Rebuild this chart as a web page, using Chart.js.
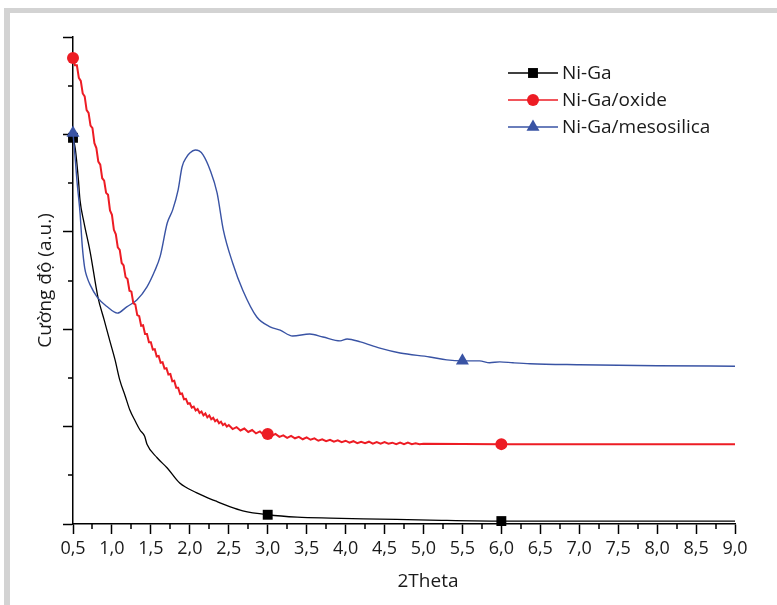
<!DOCTYPE html>
<html>
<head>
<meta charset="utf-8">
<script src="https://cdn.jsdelivr.net/npm/chart.js@4.4.1/dist/chart.umd.min.js"></script>
<style>
  html, body { margin: 0; padding: 0; background: #fff; }
  #wrap { position: relative; width: 777px; height: 605px; overflow: hidden; }
  #frame { position: absolute; left: 4px; top: 8px; width: 900px; height: 700px;
           border-top: 5px solid #d3d3d3; border-left: 6px solid #d3d3d3; }
  #chart { position: absolute; left: 0; top: 0; }
</style>
</head>
<body>
<div id="wrap">
  <div id="frame"></div>
  <canvas id="chart" width="777" height="605"></canvas>
</div>
<script>
// Ni-Ga
const niGaX = [0.5, 0.53, 0.57, 0.59, 0.64, 0.72, 0.82, 0.9, 0.98, 1.04, 1.1, 1.17, 1.23, 1.3, 1.36, 1.42, 1.45, 1.58, 1.71, 1.87, 2.09, 2.3, 2.35, 2.52, 2.68, 3.0, 3.38, 3.8, 4.44, 5.08, 6.0, 9.0];
const niGaY = [7.93, 7.70, 7.06, 6.65, 6.20, 5.59, 4.66, 4.19, 3.72, 3.37, 2.96, 2.63, 2.34, 2.11, 1.93, 1.80, 1.64, 1.36, 1.15, 0.84, 0.64, 0.49, 0.46, 0.35, 0.27, 0.19, 0.14, 0.12, 0.10, 0.08, 0.06, 0.06];
const niGaMarks = [0.5, 3.0, 6.0];

// Ni-Ga/oxide (noisy scan up to 5.0, flat after)
const oxideX = [0.5, 0.525, 0.55, 0.575, 0.6, 0.625, 0.65, 0.675, 0.7, 0.725,
  0.75, 0.775, 0.8, 0.825, 0.85, 0.875, 0.9, 0.925, 0.95, 0.975,
  1.0, 1.025, 1.05, 1.075, 1.1, 1.125, 1.15, 1.175, 1.2, 1.225,
  1.25, 1.275, 1.3, 1.325, 1.35, 1.375, 1.4, 1.425, 1.45, 1.475,
  1.5, 1.525, 1.55, 1.575, 1.6, 1.625, 1.65, 1.675, 1.7, 1.725,
  1.75, 1.775, 1.8, 1.825, 1.85, 1.875, 1.9, 1.925, 1.95, 1.975,
  2.0, 2.025, 2.05, 2.075, 2.1, 2.125, 2.15, 2.175, 2.2, 2.225,
  2.25, 2.275, 2.3, 2.325, 2.35, 2.375, 2.4, 2.425, 2.45, 2.475,
  2.5, 2.55, 2.6, 2.65, 2.7, 2.75, 2.8, 2.85, 2.9, 2.95,
  3.0, 3.05, 3.1, 3.15, 3.2, 3.25, 3.3, 3.35, 3.4, 3.45,
  3.5, 3.55, 3.6, 3.65, 3.7, 3.75, 3.8, 3.85, 3.9, 3.95,
  4.0, 4.05, 4.1, 4.15, 4.2, 4.25, 4.3, 4.35, 4.4, 4.45,
  4.5, 4.55, 4.6, 4.65, 4.7, 4.75, 4.8, 4.85, 4.9, 4.95,
  5.0, 6.0, 9.0];
const oxideY = [9.57, 9.42, 9.42, 9.16, 9.10, 8.84, 8.78, 8.50, 8.44, 8.18,
  8.13, 7.82, 7.72, 7.44, 7.38, 7.10, 7.05, 6.80, 6.76, 6.44,
  6.35, 6.04, 5.95, 5.68, 5.63, 5.36, 5.31, 5.07, 5.03, 4.79,
  4.77, 4.53, 4.51, 4.29, 4.27, 4.07, 4.08, 3.90, 3.90, 3.73,
  3.73, 3.58, 3.59, 3.44, 3.45, 3.31, 3.32, 3.19, 3.20, 3.07,
  3.08, 2.93, 2.94, 2.80, 2.80, 2.67, 2.68, 2.56, 2.57, 2.47,
  2.48, 2.39, 2.41, 2.33, 2.36, 2.28, 2.31, 2.23, 2.27, 2.19,
  2.23, 2.15, 2.18, 2.11, 2.14, 2.07, 2.10, 2.03, 2.06, 2.00,
  2.03, 1.95, 1.99, 1.92, 1.96, 1.89, 1.93, 1.86, 1.90, 1.83,
  1.85, 1.81, 1.85, 1.79, 1.82, 1.77, 1.81, 1.76, 1.79, 1.74,
  1.78, 1.73, 1.76, 1.71, 1.74, 1.70, 1.73, 1.69, 1.72, 1.68,
  1.71, 1.67, 1.70, 1.66, 1.69, 1.66, 1.69, 1.65, 1.68, 1.65,
  1.68, 1.65, 1.67, 1.64, 1.67, 1.64, 1.67, 1.64, 1.66, 1.64,
  1.65, 1.64, 1.64];
const oxideMarks = [0.5, 3.0, 6.0];

// Ni-Ga/mesosilica
const mesoX = [0.5, 0.53, 0.55, 0.59, 0.62, 0.65, 0.68, 0.72, 0.81, 0.94, 1.07, 1.19, 1.32, 1.45, 1.55, 1.62, 1.71, 1.78, 1.85, 1.9, 1.96, 2.0, 2.07, 2.12, 2.17, 2.26, 2.35, 2.43, 2.55, 2.68, 2.86, 3.03, 3.16, 3.32, 3.54, 3.71, 3.93, 4.02, 4.19, 4.44, 4.7, 5.08, 5.3, 5.5, 5.72, 5.85, 5.98, 6.15, 6.37, 7.0, 8.0, 9.0];
const mesoY = [8.03, 7.47, 7.06, 6.39, 5.69, 5.26, 5.07, 4.91, 4.66, 4.46, 4.33, 4.46, 4.60, 4.87, 5.20, 5.50, 6.18, 6.45, 6.86, 7.33, 7.54, 7.62, 7.68, 7.66, 7.58, 7.27, 6.80, 6.04, 5.36, 4.80, 4.25, 4.05, 3.98, 3.86, 3.90, 3.84, 3.76, 3.80, 3.74, 3.61, 3.51, 3.43, 3.37, 3.35, 3.35, 3.31, 3.33, 3.31, 3.29, 3.27, 3.25, 3.24];
const mesoMarks = [0.5, 5.5];

const labels = ['Ni-Ga', 'Ni-Ga/oxide', 'Ni-Ga/mesosilica'];
const FONT = "'Open Sans', 'DejaVu Sans', sans-serif";

const toPoints = (xs, ys) => xs.map((x, i) => ({ x, y: ys[i] }));

function series(label, xs, ys, marks, color, style, radius, width, order, smooth) {
  return {
    label,
    data: toPoints(xs, ys),
    borderColor: color,
    backgroundColor: color,
    borderWidth: width,
    pointStyle: style,
    pointBackgroundColor: color,
    pointBorderWidth: 0,
    pointRadius: ctx => (marks.includes(ctx.raw.x) ? radius : 0),
    pointHoverRadius: 0,
    cubicInterpolationMode: smooth ? 'monotone' : 'default',
    tension: 0,
    clip: false,
    order
  };
}

// minor ticks between the major ones, hand-made legend and x title
const extras = {
  id: 'extras',
  afterDraw(chart) {
    const { ctx, chartArea: area, scales: { x, y } } = chart;
    ctx.save();
    ctx.strokeStyle = '#000';
    ctx.lineWidth = 1.5;
    ctx.beginPath();
    for (let i = 1; i < x.ticks.length; i++) {
      const px = Math.round(x.getPixelForValue((x.ticks[i - 1].value + x.ticks[i].value) / 2));
      ctx.moveTo(px, area.bottom);
      ctx.lineTo(px, area.bottom + 5);
    }
    for (let i = 1; i < y.ticks.length; i++) {
      const py = Math.round(y.getPixelForValue((y.ticks[i - 1].value + y.ticks[i].value) / 2));
      ctx.moveTo(area.left, py);
      ctx.lineTo(area.left - 5, py);
    }
    ctx.stroke();

    // legend
    const lx0 = 508, lx1 = 558, rows = [73, 100, 127];
    chart.data.datasets.forEach((ds, i) => {
      const ry = rows[i];
      ctx.strokeStyle = ds.borderColor;
      ctx.lineWidth = 1.5;
      ctx.beginPath();
      ctx.moveTo(lx0, ry);
      ctx.lineTo(lx1, ry);
      ctx.stroke();
      ctx.fillStyle = ds.borderColor;
      const r = ds.pointStyle === 'rect' ? 7 : ds.pointStyle === 'circle' ? 6 : 7.5;
      Chart.helpers.drawPoint(ctx, { pointStyle: ds.pointStyle, radius: r, rotation: 0, borderWidth: 0 }, (lx0 + lx1) / 2, ry);
      ctx.fillStyle = '#1a1a1a';
      ctx.font = '19px ' + FONT;
      ctx.textAlign = 'left';
      ctx.textBaseline = 'middle';
      ctx.fillText(ds.label, 562, ry + 1);
    });

    // x axis title
    ctx.fillStyle = '#1a1a1a';
    ctx.font = '19px ' + FONT;
    ctx.textAlign = 'center';
    ctx.textBaseline = 'middle';
    ctx.fillText('2Theta', (area.left + area.right) / 2 + 24, 582);
    ctx.restore();
  }
};

new Chart(document.getElementById('chart'), {
  type: 'line',
  data: {
    datasets: [
      series(labels[0], niGaX, niGaY, niGaMarks, '#000000', 'rect', 7, 1.3, 2, true),
      series(labels[1], oxideX, oxideY, oxideMarks, '#ed1c24', 'circle', 6, 2, 0, false),
      series(labels[2], mesoX, mesoY, mesoMarks, '#3953a4', 'triangle', 7.5, 1.4, 1, true)
    ]
  },
  options: {
    responsive: false,
    animation: false,
    events: [],
    layout: { padding: { left: 0, top: 37, right: 42, bottom: 0 } },
    plugins: { legend: { display: false }, tooltip: { enabled: false } },
    scales: {
      x: {
        type: 'linear',
        min: 0.5,
        max: 9.0,
        afterFit: s => { s.height = 81; },
        border: { display: true, color: '#000', width: 1.5 },
        grid: { drawOnChartArea: false, drawTicks: true, tickLength: 10, tickColor: '#000', tickWidth: 1.5 },
        ticks: {
          stepSize: 0.5,
          autoSkip: false,
          maxRotation: 0,
          padding: 4,
          color: '#1a1a1a',
          font: { family: FONT, size: 18 },
          callback: v => v.toFixed(1).replace('.', ',')
        }
      },
      y: {
        type: 'linear',
        min: 0,
        max: 10,
        afterFit: s => { s.width = 73; },
        border: { display: true, color: '#000', width: 1.5 },
        grid: { drawOnChartArea: false, drawTicks: true, tickLength: 10, tickColor: '#000', tickWidth: 1.5 },
        ticks: { stepSize: 2, display: false },
        title: {
          display: true,
          text: 'Cường độ (a.u.)',
          color: '#1a1a1a',
          font: { family: FONT, size: 19 },
          padding: { top: 34, bottom: 0 }
        }
      }
    }
  },
  plugins: [extras]
});
</script>
</body>
</html>
